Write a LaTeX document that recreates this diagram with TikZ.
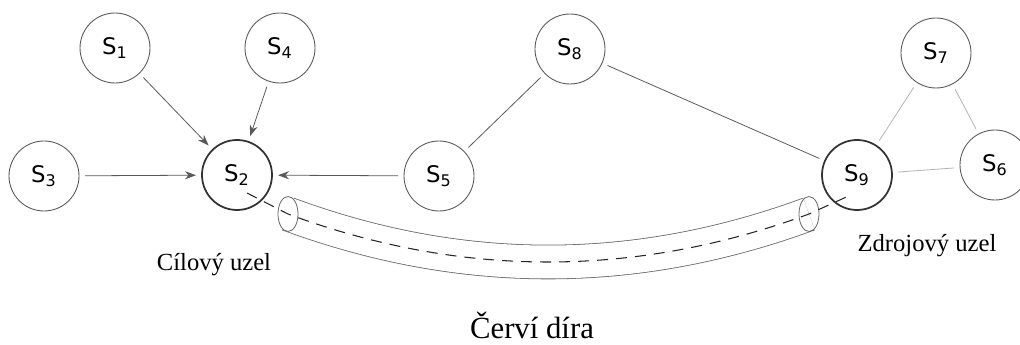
\documentclass[tikz,border=0pt]{standalone}
\usepackage{fontspec}
\setmainfont{Liberation Serif}
\newfontfamily\nodefont{DejaVu Sans}
\usetikzlibrary{arrows.meta,calc}

\tikzset{
	station/.style={circle, draw=black!65, line width=0.5pt, minimum size=1.4cm, inner sep=0pt, outer sep=0.12cm, font=\nodefont\fontsize{13}{15}\selectfont},
	endpoint/.style={station, draw=black!80, line width=1pt},
	link/.style={draw=black!65, line width=0.45pt},
	faint/.style={draw=black!30, line width=0.45pt},
	toward/.style={link, -{Stealth[length=2.2mm, width=1.6mm]}}
}

\begin{document}
\begin{tikzpicture}
			%%%%% START %%%%%
			\useasboundingbox (0, 0) rectangle (20.4, 6.9);
			
			% stations
			\node[station] (s1) at (2.30, 5.94) {S\textsubscript{1}};
			\node[station] (s4) at (5.60, 5.94) {S\textsubscript{4}};
			\node[station] (s3) at (0.88, 3.38) {S\textsubscript{3}};
			\node[endpoint] (s2) at (4.74, 3.40) {S\textsubscript{2}};
			\node[station] (s5) at (8.78, 3.38) {S\textsubscript{5}};
			\node[station] (s8) at (11.40, 5.92) {S\textsubscript{8}};
			\node[station] (s7) at (18.72, 5.84) {S\textsubscript{7}};
			\node[station] (s6) at (19.90, 3.60) {S\textsubscript{6}};
			\node[endpoint] (s9) at (17.14, 3.40) {S\textsubscript{9}};
			
			% traffic toward the target
			\draw[toward] (s1) -- (s2);
			\draw[toward] (s4) -- (s2);
			\draw[toward] (s3) -- (s2);
			\draw[toward] (s5) -- (s2);
			
			% other links
			\draw[link] (s5) -- (s8);
			\draw[link] (s8) -- (s9);
			\draw[faint] (s9) -- (s7);
			\draw[faint] (s7) -- (s6);
			\draw[faint] (s9) -- (s6);
			
			% tunnel
			\coordinate (tl) at (5.76, 2.62);
			\coordinate (tr) at (16.18, 2.62);
			\draw[black!60, line width=0.45pt, double=white, double distance=0.66cm] (tl) .. controls (9.22, 1.34) and (12.70, 1.34) .. (tr);
			\draw[black!60, line width=0.45pt, fill=white] (tl) ellipse (0.2 and 0.35);
			\draw[black!60, line width=0.45pt] (tr) ellipse (0.2 and 0.35);
			\draw[black!85, line width=0.6pt, dash pattern=on 2.2mm off 1.6mm] ($(s2.center)+(0.2, -0.36)$) -- (tl) .. controls (9.22, 1.34) and (12.70, 1.34) .. (tr) -- ($(s9.center)+(-0.08, -0.38)$);
			
			% captions
			\node[font=\fontsize{14}{16}\selectfont] (target) at (4.28, 1.60) {Cílový uzel};
			\node[font=\fontsize{14}{16}\selectfont] (source) at (18.54, 1.98) {Zdrojový uzel};
			\node[font=\fontsize{17.5}{20}\selectfont] (hole) at (10.64, 0.40) {Červí díra};
			
			%%%%% END %%%%%
		\end{tikzpicture}
\end{document}
